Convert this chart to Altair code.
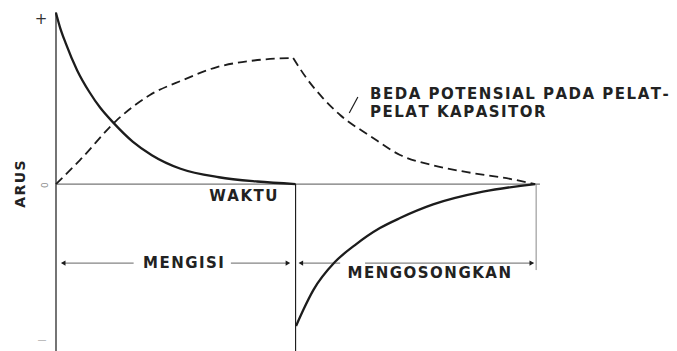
import altair as alt
import pandas as pd

# Time axis in arbitrary units: charging 0..5, discharging 5..10
# Current (solid) while charging
charge_t = [0, 0.08, 0.2, 0.44, 0.7, 0.92, 1.2, 1.6, 2.0, 2.6, 3.4, 4.2, 5.0]
charge_i = [10.06, 9.25, 8.3, 6.7, 5.4, 4.5, 3.6, 2.5, 1.7, 0.9, 0.4, 0.15, 0.0]

# Current (solid) while discharging, negative direction
dis_t = [5.01, 5.16, 5.37, 5.82, 6.24, 6.76, 7.18, 7.87, 8.91, 10.0]
dis_i = [-8.35, -7.41, -6.24, -4.59, -3.59, -2.59, -2.0, -1.2, -0.45, 0.0]

# Potential difference across the capacitor plates (dashed)
rise_t = [0, 0.5, 1.27, 1.96, 2.65, 3.36, 4.05, 4.6, 4.95]
rise_v = [0, 1.41, 3.76, 5.24, 6.12, 6.88, 7.24, 7.38, 7.41]
fall_t = [4.95, 5.24, 5.57, 5.93, 6.56, 7.18, 7.87, 8.58, 9.48, 10.0]
fall_v = [7.41, 6.18, 5.06, 4.06, 2.82, 1.71, 1.1, 0.7, 0.3, 0.0]

T_MAX = 12.96
V_MIN, V_MAX = -9.82, 10.12
ROW_V = -4.65

HS = "\u200a"


def spaced(s):
    return HS.join(s)


X = alt.X("t:Q", scale=alt.Scale(domain=[0, T_MAX]), axis=None)
Y = alt.Y("v:Q", scale=alt.Scale(domain=[V_MIN, V_MAX]), axis=None)
INK = "#1c1c1c"
FONT = "DejaVu Sans"
LABEL_SIZE = 15

current = pd.DataFrame(
    {"t": charge_t + dis_t, "v": charge_i + dis_i,
     "seg": ["c"] * len(charge_t) + ["d"] * len(dis_t)}
)
voltage = pd.DataFrame(
    {"t": rise_t + fall_t, "v": rise_v + fall_v,
     "seg": ["r"] * len(rise_t) + ["f"] * len(fall_t)}
)

current_line = alt.Chart(current).mark_line(
    color=INK, strokeWidth=2.3, interpolate="monotone"
).encode(x=X, y=Y, detail="seg:N")

voltage_line = alt.Chart(voltage).mark_line(
    color=INK, strokeWidth=1.8, strokeDash=[9, 5], interpolate="monotone"
).encode(x=X, y=Y, detail="seg:N")

# Frame lines: vertical axis, zero line, current reversal, end marker
rules = pd.DataFrame({
    "t":  [0, 0, 5.0, 10.02],
    "t2": [0, 10.1, 5.0, 10.02],
    "v":  [V_MIN, 0, 0, 0],
    "v2": [V_MAX, 0, V_MIN, -5.06],
    "w":  ["axis", "zero", "drop", "end"],
})
rule_layer = alt.Chart(rules).mark_rule().encode(
    x=X, x2="t2:Q", y=Y, y2="v2:Q",
    color=alt.Color("w:N", scale=alt.Scale(
        domain=["axis", "zero", "drop", "end"],
        range=["#3a3a3a", "#777777", INK, "#888888"]), legend=None),
    strokeWidth=alt.StrokeWidth("w:N", scale=alt.Scale(
        domain=["axis", "zero", "drop", "end"],
        range=[1.4, 1.0, 2.2, 1.0]), legend=None),
)

# Interval arrows for charging / discharging
spans = pd.DataFrame({
    "t":  [0.13, 3.65, 5.09, 6.45],
    "t2": [1.62, 4.84, 5.93, 9.96],
    "v":  [ROW_V] * 4,
})
span_layer = alt.Chart(spans).mark_rule(color="#666666", strokeWidth=1.0).encode(
    x=X, x2="t2:Q", y=Y
)
heads = pd.DataFrame({
    "t": [0.15, 4.84, 5.11, 9.93],
    "v": [ROW_V] * 4,
    "dir": ["triangle-left", "triangle-right", "triangle-left", "triangle-right"],
})
head_layer = alt.Chart(heads).mark_point(
    filled=True, color=INK, size=28, opacity=1
).encode(
    x=X, y=Y,
    shape=alt.Shape("dir:N", scale=alt.Scale(
        domain=["triangle-left", "triangle-right"],
        range=["triangle-left", "triangle-right"]), legend=None),
)

# Leader from the label to the dashed curve
leader = pd.DataFrame({"t": [6.12], "t2": [6.30], "v": [4.18], "v2": [5.12]})
leader_layer = alt.Chart(leader).mark_rule(color=INK, strokeWidth=1.2).encode(
    x=X, x2="t2:Q", y=Y, y2="v2:Q"
)

labels = pd.DataFrame({
    "t": [6.555, 6.555, 3.91, 2.66, 7.79],
    "v": [5.29, 4.24, -0.71, -4.65, -5.24],
    "label": [spaced("BEDA POTENSIAL PADA PELAT-"), spaced("PELAT KAPASITOR"),
              spaced("WAKTU"), spaced("MENGISI"), spaced("MENGOSONGKAN")],
    "align": ["left", "left", "center", "center", "center"],
})
left_labels = alt.Chart(labels[labels["align"] == "left"]).mark_text(
    align="left", baseline="middle", font=FONT, fontWeight="bold",
    fontSize=LABEL_SIZE, color="#222222"
).encode(x=X, y=Y, text="label:N")
center_labels = alt.Chart(labels[labels["align"] == "center"]).mark_text(
    align="center", baseline="middle", font=FONT, fontWeight="bold",
    fontSize=LABEL_SIZE, color="#222222"
).encode(x=X, y=Y, text="label:N")

# Vertical axis annotations
arus = alt.Chart(pd.DataFrame({"t": [-0.73], "v": [0.0], "label": [spaced("ARUS")]})).mark_text(
    angle=270, align="center", baseline="middle", font=FONT, fontSize=14,
    fontWeight="bold", color="#222222"
).encode(x=X, y=Y, text="label:N")
plus = alt.Chart(pd.DataFrame({"t": [-0.31], "v": [9.7], "label": ["+"]})).mark_text(
    align="center", baseline="middle", font=FONT, fontSize=15, color="#333333"
).encode(x=X, y=Y, text="label:N")
zero = alt.Chart(pd.DataFrame({"t": [-0.23], "v": [-0.06], "label": ["0"]})).mark_text(
    angle=270, align="center", baseline="middle", font=FONT, fontSize=9, color="#8a8a8a"
).encode(x=X, y=Y, text="label:N")
minus = alt.Chart(pd.DataFrame({"t": [-0.29], "v": [-9.18], "label": ["\u2014"]})).mark_text(
    align="center", baseline="middle", font=FONT, fontSize=9, color="#8a8a8a"
).encode(x=X, y=Y, text="label:N")

chart = alt.layer(
    rule_layer, span_layer, head_layer, voltage_line, current_line, leader_layer,
    left_labels, center_labels, arus, plus, zero, minus,
).properties(
    width=621, height=339,
    padding={"left": 56, "top": 12, "right": 0, "bottom": 0},
    autosize=alt.AutoSizeParams(type="none"),
    background="white",
).configure_view(stroke=None)

chart.save("out.html", embed_options={"renderer": "svg", "actions": False})
